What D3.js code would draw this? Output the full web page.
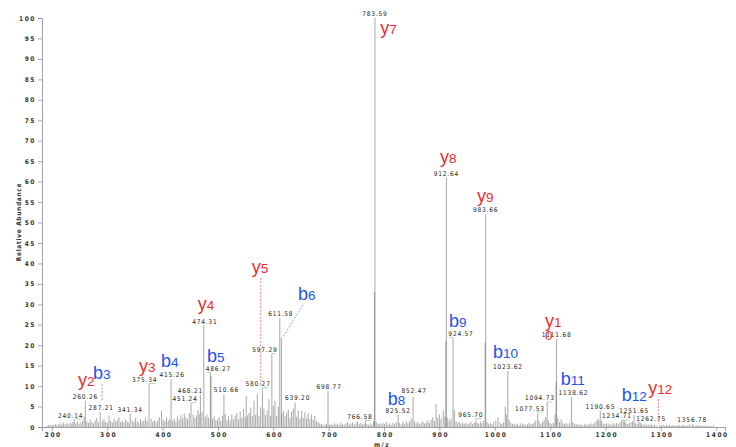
<!DOCTYPE html>
<html>
<head>
<meta charset="utf-8">
<script src="https://cdn.jsdelivr.net/npm/d3@7"></script>
<style>
  body { margin: 0; background: #fff; }
  svg { display: block; }
  .mz { font-family: 'DejaVu Sans Condensed', 'DejaVu Sans', sans-serif; font-size: 6.5px; fill: #222; letter-spacing: 0.8px; }
  .axis-text { font-family: 'DejaVu Sans Condensed', 'DejaVu Sans', sans-serif; font-size: 6.5px; font-weight: bold; fill: #333; letter-spacing: 1.6px; }
  .title { font-family: 'DejaVu Sans Condensed', 'DejaVu Sans', sans-serif; font-size: 6.5px; font-weight: bold; fill: #333; letter-spacing: 0.7px; }
  .ion { font-family: 'Liberation Sans', Arial, sans-serif; }
</style>
</head>
<body>
<svg id="canvas" width="736" height="447"></svg>
<script>
// labelled peaks: [m/z, relative abundance]
let labelledPeaks = [
  [240.14, 1.8], [260.26, 6.4], [287.21, 3.7], [341.34, 3.3], [375.34, 10.5],
  [415.26, 11.7], [451.24, 5.6], [468.21, 7.6], [474.31, 24.8], [486.27, 13.3],
  [510.66, 8.0], [580.27, 9.0], [597.29, 17.8], [611.58, 26.6], [639.20, 6.0],
  [698.77, 8.8], [766.58, 1.5], [783.59, 100], [825.52, 3.0], [852.47, 7.4],
  [912.64, 61], [924.57, 21.8], [965.70, 1.2], [983.66, 52], [1023.62, 13.7],
  [1077.53, 3.3], [1094.73, 6.0], [1111.68, 21.5], [1138.62, 7.3], [1190.65, 4.0],
  [1234.71, 1.6], [1251.65, 3.0], [1262.75, 1.0], [1356.78, 0.8]
]

// unlabelled peaks sitting next to big ones
let shoulderPeaks = [[614.5, 21.8], [782.6, 33], [911.6, 21], [982.7, 20.6], [1110.7, 11], [487.4, 12.4]]

// background peaks
let noisePeaks = [
  [191,0.3],[194,0.5],[197,0.4],[200,0.6],[203,0.4],[206,0.8],[209,0.5],[212,0.7],[215,0.9],[218,0.6],
  [221,1.1],[224,0.7],[227,0.9],[230,0.6],[233,1.0],[236,0.8],[238,1.2],[243,0.9],[246,1.3],[249,0.8],
  [252,1.1],[255,1.5],[258,2.6],[263,1.4],[266,1.0],[269,1.8],[272,1.2],[275,0.9],[278,1.6],[281,2.2],
  [284,1.1],[291,1.4],[294,1.9],[297,1.2],[300,1.0],[303,2.8],[306,1.5],[309,1.1],[312,2.0],[315,1.3],
  [318,1.7],[321,2.4],[324,1.2],[327,1.5],[330,1.0],[333,1.8],[336,1.3],[339,1.1],[345,1.6],[348,1.2],
  [351,2.1],[354,1.4],[357,1.0],[360,1.9],[363,1.3],[366,1.6],[369,2.2],[372,1.5],[379,2.0],[382,1.3],
  [385,1.7],[388,1.2],[391,1.6],[394,2.4],[398,4.0],[401,1.8],[404,1.4],[407,2.3],[410,1.6],[413,1.9],
  [418,1.5],[421,2.0],[424,1.4],[427,2.6],[430,1.8],[433,3.0],[436,2.1],[439,3.3],[442,2.4],[445,1.9],
  [448,3.4],[455,3.0],[458,2.2],[461,2.8],[464,4.2],[466,3.1],[471,3.6],[477,2.5],[480,3.0],[483,2.2],
  [490,2.0],[493,2.6],[496,1.6],[499,1.8],[502,2.4],[505,1.5],[508,2.8],[513,3.2],[516,1.6],[519,2.6],
  [522,1.7],[525,3.0],[528,1.9],[531,2.8],[534,3.4],[537,1.8],[540,3.8],[543,2.2],[546,4.4],[549,2.4],
  [551,7.6],[553,2.8],[556,3.4],[559,4.7],[562,2.6],[565,6.4],[568,3.0],[571,8.0],[574,2.6],[577,4.8],
  [583,4.5],[586,2.9],[589,4.0],[592,6.8],[595,2.6],[600,5.2],[603,6.4],[606,2.8],[609,5.0],[615,3.2],
  [618,3.9],[621,2.6],[624,3.5],[627,4.2],[630,2.2],[633,3.8],[636,4.5],[642,2.5],[645,4.0],[648,2.1],
  [651,3.9],[654,2.2],[657,3.6],[660,2.1],[663,3.4],[666,1.9],[669,3.1],[672,1.8],[675,2.7],[678,1.4],
  [681,1.2],[684,0.9],[687,0.7],[690,0.6],[694,0.5],[696,0.8],[701,0.5],[704,0.7],[707,0.4],[710,0.9],
  [713,0.6],[716,0.8],[719,0.5],[722,1.0],[725,0.7],[728,0.5],[731,0.9],[734,1.2],[737,0.6],[740,0.8],
  [743,1.1],[746,0.6],[749,0.9],[752,1.3],[755,0.7],[758,1.0],[761,0.6],[764,0.8],[769,0.7],[772,0.5],
  [775,0.9],[778,0.6],[781,1.4],[786,1.2],[789,0.7],[792,0.9],[795,0.6],[798,1.0],[801,0.7],[804,1.2],
  [807,0.6],[810,0.9],[813,0.5],[816,1.1],[819,0.8],[822,1.3],[828,1.0],[831,0.6],[834,1.2],[837,0.8],
  [840,1.5],[843,0.9],[846,1.3],[849,2.0],[855,1.4],[858,0.9],[861,1.2],[864,0.7],[867,1.0],[870,1.4],
  [873,0.8],[876,1.1],[879,1.6],[882,1.0],[885,1.8],[888,2.4],[891,1.5],[894,5.6],[897,2.2],[900,3.1],
  [903,2.0],[907,4.0],[910,2.6],[915,2.2],[918,1.5],[921,2.0],[927,4.2],[930,1.4],[933,1.0],[936,1.3],
  [939,0.8],[942,1.1],[945,0.7],[948,1.0],[951,0.6],[954,0.9],[957,1.2],[960,0.7],[963,1.0],[968,1.1],
  [971,0.8],[974,1.3],[977,0.9],[980,1.5],[986,1.3],[989,0.8],[992,1.0],[995,0.7],[998,1.2],[1002,1.6],
  [1006,2.4],[1010,1.0],[1013,0.7],[1016,1.2],[1019,5.0],[1021,3.0],[1026,1.8],[1029,1.0],[1032,0.7],[1035,0.9],
  [1038,0.6],[1041,0.8],[1044,0.5],[1047,0.9],[1050,0.6],[1053,0.8],[1056,0.5],[1059,0.7],[1062,1.0],[1065,0.6],
  [1068,0.8],[1071,1.1],[1074,1.6],[1080,1.5],[1083,0.8],[1086,1.2],[1089,1.8],[1092,2.4],[1097,1.6],[1100,1.0],
  [1103,0.7],[1106,1.0],[1109,3.0],[1114,2.2],[1117,1.2],[1120,1.9],[1123,1.0],[1126,0.7],[1129,0.9],[1132,0.6],
  [1135,1.0],[1141,1.2],[1144,0.8],[1147,0.6],[1150,0.8],[1153,0.5],[1156,0.7],[1159,0.4],[1162,0.6],[1165,0.8],
  [1168,0.5],[1171,0.7],[1174,0.9],[1177,0.6],[1180,1.0],[1183,1.4],[1186,2.0],[1188,1.6],[1193,1.5],[1196,0.9],
  [1199,0.7],[1202,0.9],[1205,0.6],[1208,0.8],[1211,0.5],[1214,0.9],[1217,0.7],[1220,1.0],[1223,0.6],[1226,1.1],
  [1229,1.6],[1232,1.9],[1237,1.0],[1240,0.7],[1243,0.9],[1246,1.2],[1249,1.4],[1254,1.0],[1257,0.7],[1260,1.1],
  [1265,0.8],[1268,0.5],[1271,0.7],[1274,0.4],[1277,0.6],[1280,0.5],[1283,0.7],[1286,0.4],[1289,0.6],[1292,0.3],
  [1298,0.5],[1301,0.4],[1304,0.6],[1307,0.3],[1310,0.5],[1313,0.4],[1316,0.6],[1319,0.3],[1322,0.5],[1325,0.4],
  [1328,0.3],[1331,0.5],[1334,0.4],[1337,0.3],[1340,0.5],[1343,0.4],[1346,0.3],[1349,0.4],[1352,0.6],[1359,0.4],
  [1362,0.3],[1365,0.5],[1368,0.3],[1371,0.4],[1374,0.3],[1377,0.2],[1380,0.4],[1383,0.3],[1386,0.2],[1389,0.3],
  [1392,0.2],[1395,0.3]
]

// fragment ions: [series, number, m/z]
let ions = [
  ['y', '2', 260.26], ['b', '3', 290.5], ['y', '3', 375.34], ['b', '4', 415.26],
  ['y', '4', 474.31], ['b', '5', 486.27], ['y', '5', 577.3], ['b', '6', 614.5],
  ['y', '7', 783.59], ['b', '8', 825.52], ['y', '8', 912.64], ['b', '9', 924.57],
  ['y', '9', 983.66], ['b', '10', 1023.62], ['y', '10', 1111.68], ['b', '11', 1138.62],
  ['b', '12', 1251.65], ['y', '12', 1295.5]
]

let xTickValues = [200, 300, 400, 500, 600, 700, 800, 900, 1000, 1100, 1200, 1300, 1400]
let yTickValues = [0, 5, 10, 15, 20, 25, 30, 35, 40, 45, 50, 55, 60, 65, 70, 75, 80, 85, 90, 95, 100]

// ---- layout (label nudges in px) ----
let mzLabelNudge = {
  '240.14': [-3.5, 0], '287.21': [1, 0], '375.34': [-4.3, 0], '415.26': [1, 0],
  '451.24': [-6, -1], '468.21': [-10, -1], '474.31': [1, 0], '486.27': [8, 0],
  '510.66': [2.5, 0], '580.27': [-4.4, -2], '597.29': [-7, 0], '611.58': [1, 0],
  '639.20': [2.5, 0], '698.77': [1, 0], '766.58': [-5.6, 0], '852.47': [1, -1.5],
  '924.57': [8, 0], '965.70': [-5, -3], '1077.53': [-7.7, -1], '1094.73': [-7.4, 0],
  '1138.62': [2, 0], '1234.71': [-7.7, 0], '1262.75': [11, 0]
}
let ionNudge = {
  'y2': [-7.3, -15], 'b3': [-9, -48], 'y3': [-10, -12.4], 'b4': [-10, -12],
  'y4': [-6.1, -15.6], 'b5': [-3.4, -11], 'y5': [-9.1, -154], 'b6': [16.6, -38],
  'y7': [5.3, 16], 'b8': [-10.4, -10], 'y8': [-6.4, -14.2], 'b9': [-4, -11],
  'y9': [-8.7, -12.6], 'b10': [-14.8, -12.7], 'y10': [-11.6, -12.4], 'b11': [-10.8, -12],
  'b12': [-12.3, -13.7], 'y12': [-10, -33]
}
let ionDrop = { 'b3': 17, 'y5': 108, 'y12': 25 }

let width = 736
let height = 447
let canvas = d3.select('#canvas')

let xScale = d3.scaleLinear().domain([182, 1416]).range([42, 725])
let yScale = d3.scaleLinear().domain([0, 100]).range([427, 18])

let allPeaks = labelledPeaks.concat(shoulderPeaks)
let heightAt = (mz) => {
  let found = allPeaks.find((p) => p[0] === mz)
  return found ? found[1] : 0
}

let drawAxes = () => {
  let xAxis = d3.axisBottom(xScale)
                .tickValues(xTickValues)
                .tickSize(4)
                .tickFormat((d) => d)
  let xMinor = d3.axisBottom(xScale)
                 .tickValues(d3.range(190, 1411, 10))
                 .tickSize(2)
                 .tickFormat('')
  let yAxis = d3.axisLeft(yScale)
                .tickValues(yTickValues)
                .tickSize(4)
                .tickFormat((d) => d)
  let yMinor = d3.axisLeft(yScale)
                 .tickValues(d3.range(0, 101, 1))
                 .tickSize(2)
                 .tickFormat('')

  let gx = canvas.append('g').attr('transform', 'translate(0,' + yScale(0) + ')')
  gx.call(xMinor)
  gx.call(xAxis)
  gx.selectAll('.tick text').attr('class', 'axis-text').attr('dy', '0.4em').attr('dx', '0.8px')

  let gy = canvas.append('g').attr('transform', 'translate(' + xScale(182) + ',0)')
  gy.call(yMinor)
  gy.call(yAxis)
  gy.selectAll('.tick text').attr('class', 'axis-text').attr('dx', '1px')

  canvas.selectAll('.domain').attr('stroke', '#888').attr('stroke-width', 0.8)
  canvas.selectAll('.tick line').attr('stroke', '#888').attr('stroke-width', 0.7)

  canvas.append('text')
        .attr('class', 'title')
        .attr('transform', 'translate(21,222) rotate(-90)')
        .attr('text-anchor', 'middle')
        .text('Relative Abundance')

  canvas.append('text')
        .attr('class', 'title')
        .attr('x', 382)
        .attr('y', 446.5)
        .attr('text-anchor', 'middle')
        .style('letter-spacing', '1.5px')
        .text('m/z')
}

let drawPeaks = (data) => {
  canvas.append('g')
        .selectAll('line')
        .data(data)
        .enter()
        .append('line')
        .attr('x1', (p) => xScale(p[0]))
        .attr('x2', (p) => xScale(p[0]))
        .attr('y1', yScale(0))
        .attr('y2', (p) => yScale(p[1]))
        .attr('stroke', '#6e6e6e')
        .attr('stroke-opacity', 0.6)
        .attr('stroke-width', 1)
}

let drawMzLabels = () => {
  let g = canvas.append('g')
  labelledPeaks.forEach((p) => {
    let key = p[0].toFixed(2)
    let nudge = mzLabelNudge[key] || [0, 0]
    let px = xScale(p[0])
    let top = yScale(p[1])
    let cx = px + nudge[0]
    let base = top - 2 + nudge[1]
    let txt = g.append('text')
               .attr('class', 'mz')
               .attr('x', cx)
               .attr('y', base)
               .attr('text-anchor', 'middle')
               .text(key)
    if (Math.abs(nudge[0]) > 3) {
      let half = txt.node().getComputedTextLength() / 2
      let edge = nudge[0] < 0 ? cx + half - 2 : cx - half + 1
      g.append('polyline')
       .attr('points', [[edge, base + 1.5], [px, base + 1.5], [px, top]].join(' '))
       .attr('fill', 'none')
       .attr('stroke', '#8fd88f')
       .attr('stroke-width', 0.8)
    }
  })
}

let drawIons = () => {
  let g = canvas.append('g').attr('class', 'ion')
  ions.forEach((ion) => {
    let name = ion[0] + ion[1]
    let color = ion[0] === 'y' ? '#ee2b2b' : '#2253ea'
    let px = xScale(ion[2])
    let top = yScale(heightAt(ion[2]))
    let nudge = ionNudge[name]
    let left = px + nudge[0]
    let base = top + nudge[1]
    let t = g.append('text')
             .attr('x', left)
             .attr('y', base)
             .attr('fill', color)
    t.append('tspan').style('font-size', '18px').text(ion[0])
    if (name === 'y10') {
      // number wraps onto a second line
      t.append('tspan').style('font-size', '13.5px').text('1')
      g.append('text')
       .attr('x', left)
       .attr('y', base + 13.4)
       .attr('fill', color)
       .style('font-size', '13.5px')
       .text('0')
    } else {
      t.append('tspan').style('font-size', '13.5px').text(ion[1])
    }

    if (ionDrop[name]) {
      g.append('line')
       .attr('x1', px).attr('x2', px)
       .attr('y1', base + 5).attr('y2', base + 5 + ionDrop[name])
       .attr('stroke', ion[0] === 'y' ? '#e06060' : '#6f8cf0')
       .attr('stroke-width', 0.8)
       .attr('stroke-dasharray', '2,1.5')
    }
    if (name === 'b6') {
      g.append('line')
       .attr('x1', left + 5).attr('y1', base + 5)
       .attr('x2', px + 1).attr('y2', top)
       .attr('stroke', '#6f8cf0')
       .attr('stroke-width', 0.8)
       .attr('stroke-dasharray', '2,1.5')
    }
  })
}

canvas.append('rect').attr('width', width).attr('height', height).attr('fill', '#fff')
drawPeaks(noisePeaks)
drawPeaks(shoulderPeaks)
drawPeaks(labelledPeaks)
drawAxes()
drawMzLabels()
drawIons()
</script>
</body>
</html>
